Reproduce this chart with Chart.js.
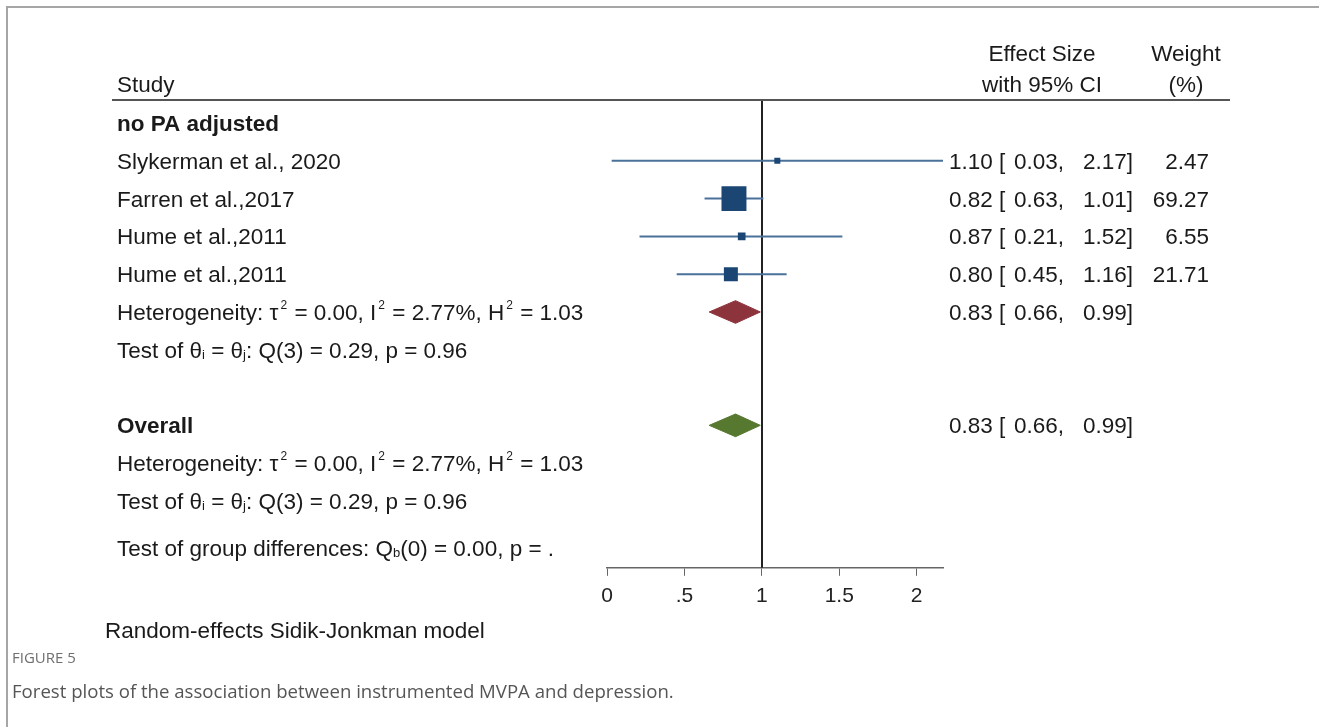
<!DOCTYPE html>
<html>
<head>
<meta charset="utf-8">
<script src="https://cdn.jsdelivr.net/npm/chart.js@4.4.0/dist/chart.umd.min.js"></script>
<style>
body { margin: 0; background: #fff; }
#wrap { position: relative; width: 1319px; height: 727px; overflow: hidden; }
#frame { position: absolute; left: 6px; top: 6px; width: 1400px; height: 800px; border-top: 2px solid #a6a6a6; border-left: 2px solid #a6a6a6; }
#chart { position: absolute; left: 0; top: 0; }
.fig { position: absolute; left: 12px; top: 647px; font: 15px "Open Sans", sans-serif; color: #6f6f6f; }
.cap { position: absolute; left: 12px; top: 678px; font: 18.6px "Open Sans", sans-serif; color: #555; }
</style>
</head>
<body>
<div id="wrap">
  <div id="frame"></div>
  <canvas id="chart" width="1319" height="727"></canvas>
  <div class="fig">FIGURE 5</div>
  <div class="cap">Forest plots of the association between instrumented MVPA and depression.</div>
</div>
<script>
// study level values
const studies = ['Slykerman et al., 2020', 'Farren et al.,2017', 'Hume et al.,2011', 'Hume et al.,2011'];
const effect = [1.10, 0.82, 0.87, 0.80];
const ciLow = [0.03, 0.63, 0.21, 0.45];
const ciHigh = [2.17, 1.01, 1.52, 1.16];
const weight = [2.47, 69.27, 6.55, 21.71];

// pooled estimates [es, low, high]
const subgroupES = [0.83, 0.66, 0.99];
const overallES = [0.83, 0.66, 0.99];

const xTicks = [0, 0.5, 1, 1.5, 2];
const xTickLabels = ['0', '.5', '1', '1.5', '2'];

// rows on the y scale
const groupRow = 0;
const studyRows = [1, 2, 3, 4];
const subgroupRow = 5;
const overallRow = 8;

const FONT = '"Liberation Sans", Arial, sans-serif';
const FS = 22.5;
const ink = '#1a1a1a';
const blue = '#1b4673';
const ciBlue = '#4a719a';

const hetSegs = [['Heterogeneity: τ'], ['2', 'sup'], [' = 0.00, I'], ['2', 'sup'], [' = 2.77%, H'], ['2', 'sup'], [' = 1.03']];
const testSegs = [['Test of θ'], ['i', 'sub'], [' = θ'], ['j', 'sub'], [': Q(3) = 0.29, p = 0.96']];
const groupSegs = [['Test of group differences: Q'], ['b', 'sub'], ['(0) = 0.00, p = .']];

function diamond(es, row, h) {
  return [
    {x: es[1], y: row}, {x: es[0], y: row - h}, {x: es[2], y: row},
    {x: es[0], y: row + h}, {x: es[1], y: row}
  ];
}

function rich(ctx, segs, x, y) {
  // y is the baseline
  let cx = x;
  segs.forEach(s => {
    if (s[1] === 'sup') {
      ctx.font = '12px ' + FONT;
      ctx.fillText(s[0], cx + 2, y - 11);
      cx += ctx.measureText(s[0]).width + 3;
    } else if (s[1] === 'sub') {
      ctx.font = '13px ' + FONT;
      ctx.fillText(s[0], cx, y + 1);
      cx += ctx.measureText(s[0]).width;
    } else {
      ctx.font = FS + 'px ' + FONT;
      ctx.fillText(s[0], cx, y);
      cx += ctx.measureText(s[0]).width;
    }
  });
}

const fmt = v => v.toFixed(2);

const forestText = {
  id: 'forestText',
  beforeDatasetsDraw(chart) {
    const {ctx, chartArea: a, scales: {x}} = chart;
    ctx.save();
    ctx.strokeStyle = '#222';
    ctx.lineWidth = 2;
    const x1 = Math.round(x.getPixelForValue(1));
    ctx.beginPath(); ctx.moveTo(x1, a.top); ctx.lineTo(x1, a.bottom); ctx.stroke();
    ctx.strokeStyle = '#555';
    ctx.beginPath(); ctx.moveTo(112, a.top); ctx.lineTo(1230, a.top); ctx.stroke();
    ctx.restore();
  },
  afterDraw(chart) {
    const {ctx, chartArea: a, scales: {y}} = chart;
    const base = r => y.getPixelForValue(r) + 8;
    ctx.save();
    ctx.fillStyle = ink;
    ctx.textBaseline = 'alphabetic';
    ctx.font = FS + 'px ' + FONT;

    // header
    ctx.textAlign = 'left';
    ctx.fillText('Study', 117, a.top - 8);
    ctx.textAlign = 'center';
    ctx.fillText('Effect Size', 1042, a.top - 39);
    ctx.fillText('with 95% CI', 1042, a.top - 8);
    ctx.fillText('Weight', 1186, a.top - 39);
    ctx.fillText('(%)', 1186, a.top - 8);

    ctx.textAlign = 'left';
    ctx.font = 'bold ' + FS + 'px ' + FONT;
    ctx.fillText('no PA adjusted', 117, base(groupRow));
    ctx.fillText('Overall', 117, base(overallRow));

    const esText = (es, row) => {
      const b = base(row);
      ctx.font = FS + 'px ' + FONT;
      ctx.textAlign = 'left';
      ctx.fillText(fmt(es[0]), 949, b);
      ctx.fillText('[', 999, b);
      ctx.textAlign = 'right';
      ctx.fillText(fmt(es[1]) + ',', 1064, b);
      ctx.fillText(fmt(es[2]) + ']', 1133, b);
    };

    studies.forEach((s, i) => {
      ctx.font = FS + 'px ' + FONT;
      ctx.textAlign = 'left';
      ctx.fillText(s, 117, base(studyRows[i]));
      esText([effect[i], ciLow[i], ciHigh[i]], studyRows[i]);
      ctx.textAlign = 'right';
      ctx.fillText(weight[i].toFixed(2), 1209, base(studyRows[i]));
    });
    esText(subgroupES, subgroupRow);
    esText(overallES, overallRow);

    ctx.textAlign = 'left';
    rich(ctx, hetSegs, 117, base(5));
    rich(ctx, testSegs, 117, base(6));
    rich(ctx, hetSegs, 117, base(9));
    rich(ctx, testSegs, 117, base(10));
    rich(ctx, groupSegs, 117, base(11.25));

    ctx.font = FS + 'px ' + FONT;
    ctx.fillText('Random-effects Sidik-Jonkman model', 105, a.bottom + 70);
    ctx.restore();
  }
};

const boxSide = w => Math.max(6, 3 * Math.sqrt(w));

const datasets = [];
datasets.push({
  data: studies.map((s, i) => ({x: effect[i], y: studyRows[i]})),
  pointStyle: 'rect',
  pointRadius: weight.map(w => boxSide(w) / Math.SQRT2),
  pointHoverRadius: weight.map(w => boxSide(w) / Math.SQRT2),
  backgroundColor: blue,
  borderWidth: 0
});
studies.forEach((s, i) => {
  datasets.push({
    data: [{x: ciLow[i], y: studyRows[i]}, {x: ciHigh[i], y: studyRows[i]}],
    showLine: true,
    borderColor: ciBlue,
    borderWidth: 2,
    pointRadius: 0
  });
});
datasets.push({
  data: diamond(subgroupES, subgroupRow, 0.3),
  showLine: true, fill: 'shape', tension: 0,
  backgroundColor: '#8c333b', borderColor: '#8c333b', borderWidth: 1, pointRadius: 0
});
datasets.push({
  data: diamond(overallES, overallRow, 0.3),
  showLine: true, fill: 'shape', tension: 0,
  backgroundColor: '#56782f', borderColor: '#56782f', borderWidth: 1, pointRadius: 0
});

new Chart(document.getElementById('chart'), {
  type: 'scatter',
  data: {datasets: datasets},
  options: {
    responsive: false,
    animation: false,
    devicePixelRatio: 1,
    layout: {padding: {left: 607, right: 376, top: 100, bottom: 110}},
    plugins: {legend: {display: false}, tooltip: {enabled: false}},
    scales: {
      x: {
        type: 'linear',
        min: 0,
        max: 2.17,
        afterBuildTicks: s => { s.ticks = xTicks.map(v => ({value: v})); },
        ticks: {
          callback: (v) => xTickLabels[xTicks.indexOf(v)],
          color: '#222',
          padding: 8,
          maxRotation: 0,
          font: {family: FONT, size: 21}
        },
        grid: {drawOnChartArea: false, drawTicks: true, tickLength: 8, color: '#666'},
        border: {display: true, color: '#666', width: 1.5}
      },
      y: {
        type: 'linear',
        display: false,
        reverse: true,
        min: -0.61,
        max: 11.77
      }
    }
  },
  plugins: [forestText]
});
</script>
</body>
</html>
